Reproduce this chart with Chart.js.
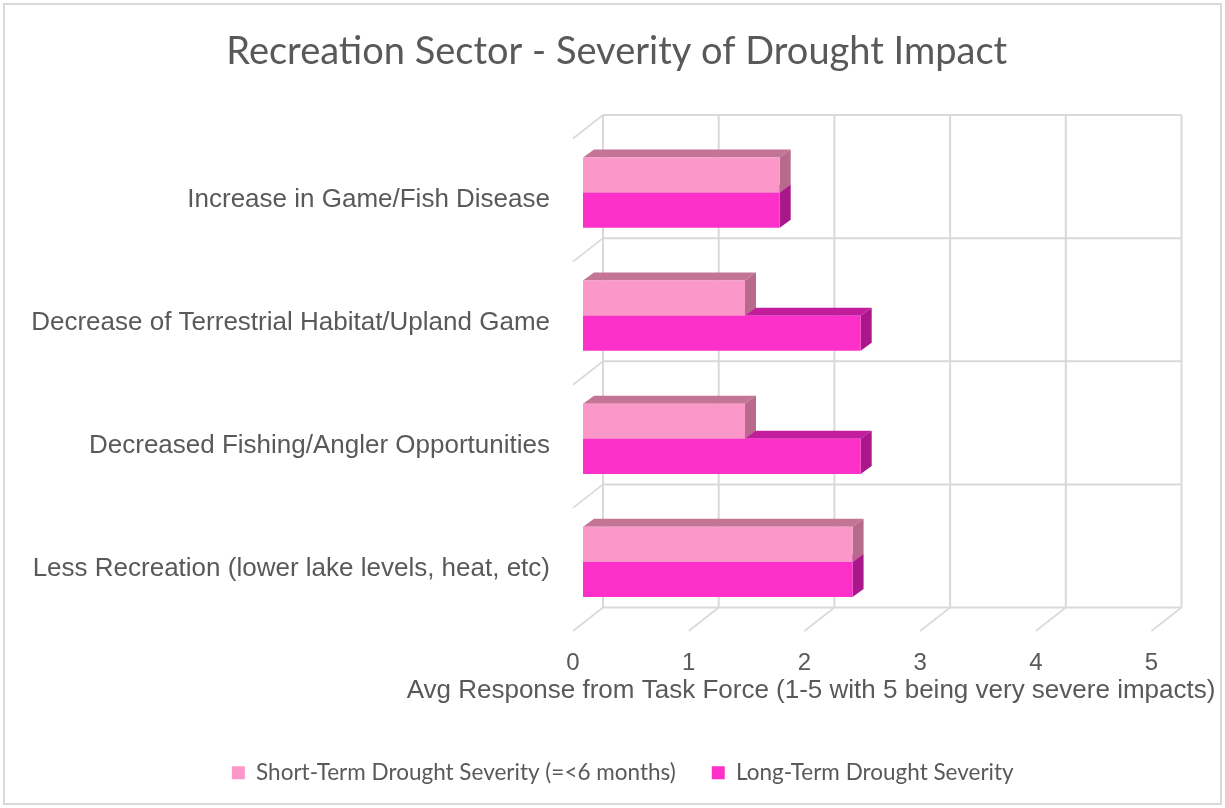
<!DOCTYPE html>
<html>
<head>
<meta charset="utf-8">
<title>Recreation Sector - Severity of Drought Impact</title>
<script src="https://cdn.jsdelivr.net/npm/chart.js@4.4.1/dist/chart.umd.min.js"></script>
<style>
  html, body { margin: 0; padding: 0; background: #ffffff; overflow: hidden; }
  canvas { display: block; }
</style>
</head>
<body>
<canvas id="chart" width="1225" height="808"></canvas>
<script>
// ---- data ----
const categories = [
  'Increase in Game/Fish Disease',
  'Decrease of Terrestrial Habitat/Upland Game',
  'Decreased Fishing/Angler Opportunities',
  'Less Recreation (lower lake levels, heat, etc)'
];
const seriesNames = ['Short-Term Drought Severity (=<6 months)', 'Long-Term Drought Severity'];
const shortTerm = [1.7, 1.4, 1.4, 2.33];
const longTerm = [1.7, 2.4, 2.4, 2.33];
const xTicks = [0, 1, 2, 3, 4, 5];
const chartTitle = 'Recreation Sector - Severity of Drought Impact';
const xAxisTitle = 'Avg Response from Task Force (1-5 with 5 being very severe impacts)';

// ---- styles ----
const TEXT_COLOR = '#595959';
const GRID_COLOR = '#d9d9d9';
const FRONT_COLORS = ['#fc98c9', '#fd30c9'];
const TOP_COLORS = ['#c47596', '#c21d9d'];
const SIDE_COLORS = ['#b76a8b', '#a9178a'];
const BAR_DEPTH = { dx: 11, dy: -8 };     // thickness of each 3D bar
const WALL_BACK = { dx: 20, dy: -16 };    // back wall relative to bar plane
const WALL_FRONT = { dx: -10, dy: 7.5 };  // front edge relative to bar plane
const TITLE_SHIFT = 31;                   // horizontal nudge of the chart title
const LEGEND_SHIFT = 37;                  // horizontal nudge of the legend row
const SANS = '"Liberation Sans", Arial, sans-serif';
const CAL = 'Lato, "Open Sans", sans-serif';

const depthPlugin = {
  id: 'depth3d',
  afterLayout(chart) {
    if (chart.titleBlock) {
      chart.titleBlock.left += TITLE_SHIFT;
      chart.titleBlock.right += TITLE_SHIFT;
    }
    if (chart.legend) {
      chart.legend.left += LEGEND_SHIFT;
      chart.legend.right += LEGEND_SHIFT;
    }
  },
  beforeDraw(chart) {
    const ctx = chart.ctx;
    ctx.save();
    ctx.strokeStyle = GRID_COLOR;
    ctx.lineWidth = 2;
    ctx.strokeRect(4, 4, chart.width - 8, chart.height - 8);
    ctx.restore();
  },
  beforeDatasetsDraw(chart) {
    const { ctx } = chart;
    const xs = chart.scales.x, ys = chart.scales.y;
    const px = xTicks.map(v => xs.getPixelForValue(v));
    const py = [];
    for (let i = 0; i <= categories.length; i++) py.push(ys.getPixelForValue(i - 0.5));
    const x0 = px[0], x5 = px[px.length - 1];
    const yTop = py[0], yBot = py[py.length - 1];

    ctx.save();
    ctx.strokeStyle = GRID_COLOR;
    ctx.lineCap = 'butt';
    // back wall
    ctx.lineWidth = 2;
    ctx.beginPath();
    px.forEach(x => {
      ctx.moveTo(x + WALL_BACK.dx, yTop + WALL_BACK.dy);
      ctx.lineTo(x + WALL_BACK.dx, yBot + WALL_BACK.dy);
    });
    py.forEach(y => {
      ctx.moveTo(x0 + WALL_BACK.dx, y + WALL_BACK.dy);
      ctx.lineTo(x5 + WALL_BACK.dx, y + WALL_BACK.dy);
    });
    ctx.stroke();
    // side wall and floor depth lines
    ctx.lineWidth = 1.6;
    ctx.beginPath();
    py.forEach(y => {
      ctx.moveTo(x0 + WALL_BACK.dx, y + WALL_BACK.dy);
      ctx.lineTo(x0 + WALL_FRONT.dx, y + WALL_FRONT.dy);
    });
    px.forEach(x => {
      ctx.moveTo(x + WALL_BACK.dx, yBot + WALL_BACK.dy);
      ctx.lineTo(x + WALL_FRONT.dx, yBot + WALL_FRONT.dy);
    });
    ctx.stroke();

    // top and side faces of the bars (front faces are drawn by the bar elements)
    for (let j = 0; j < categories.length; j++) {
      [1, 0].forEach(di => {
        const bar = chart.getDatasetMeta(di).data[j];
        const p = bar.getProps(['x', 'y', 'base', 'height'], true);
        const t = p.y - p.height / 2, b = p.y + p.height / 2;
        const a = p.base, e = p.x;
        ctx.fillStyle = TOP_COLORS[di];
        ctx.beginPath();
        ctx.moveTo(a, t);
        ctx.lineTo(e, t);
        ctx.lineTo(e + BAR_DEPTH.dx, t + BAR_DEPTH.dy);
        ctx.lineTo(a + BAR_DEPTH.dx, t + BAR_DEPTH.dy);
        ctx.closePath();
        ctx.fill();
        ctx.fillStyle = SIDE_COLORS[di];
        ctx.beginPath();
        ctx.moveTo(e, t);
        ctx.lineTo(e + BAR_DEPTH.dx, t + BAR_DEPTH.dy);
        ctx.lineTo(e + BAR_DEPTH.dx, b + BAR_DEPTH.dy);
        ctx.lineTo(e, b);
        ctx.closePath();
        ctx.fill();
      });
    }
    ctx.restore();
  },
  afterDraw(chart) {
    const ctx = chart.ctx;
    ctx.save();
    ctx.fillStyle = TEXT_COLOR;
    ctx.font = '26px ' + SANS;
    ctx.textAlign = 'center';
    ctx.textBaseline = 'alphabetic';
    ctx.fillText(xAxisTitle, 811, 698);
    ctx.restore();
  }
};

new Chart(document.getElementById('chart'), {
  type: 'bar',
  data: {
    labels: categories,
    datasets: [
      { label: seriesNames[0], data: shortTerm, backgroundColor: FRONT_COLORS[0], borderWidth: 0 },
      { label: seriesNames[1], data: longTerm, backgroundColor: FRONT_COLORS[1], borderWidth: 0 }
    ]
  },
  options: {
    indexAxis: 'y',
    responsive: false,
    animation: false,
    categoryPercentage: 0.57,
    barPercentage: 1.0,
    layout: { padding: { top: 8, left: 10, right: 63.5, bottom: 14 } },
    scales: {
      x: {
        min: 0,
        max: 5,
        afterBuildTicks(scale) { scale.ticks = xTicks.map(v => ({ value: v })); },
        afterFit(scale) { scale.height = 102; },
        grid: { display: false, drawTicks: false },
        border: { display: false },
        ticks: {
          color: TEXT_COLOR,
          font: { family: SANS, size: 24 },
          padding: 25,
          labelOffset: WALL_FRONT.dx,
          maxRotation: 0
        }
      },
      y: {
        afterFit(scale) { scale.width = 583 - 10; },
        grid: { display: false, drawTicks: false },
        border: { display: false },
        ticks: {
          color: TEXT_COLOR,
          font: { family: SANS, size: 26 },
          padding: 33,
          labelOffset: 7
        }
      }
    },
    plugins: {
      title: {
        display: true,
        text: chartTitle,
        color: TEXT_COLOR,
        font: { family: CAL, size: 38, weight: 'normal' },
        padding: { top: 21.2, bottom: 56.2 }
      },
      legend: {
        position: 'bottom',
        labels: {
          boxWidth: 13,
          boxHeight: 13,
          padding: 36,
          color: TEXT_COLOR,
          font: { family: CAL, size: 22.5 }
        }
      },
      tooltip: { enabled: false }
    }
  },
  plugins: [depthPlugin]
});
</script>
</body>
</html>
